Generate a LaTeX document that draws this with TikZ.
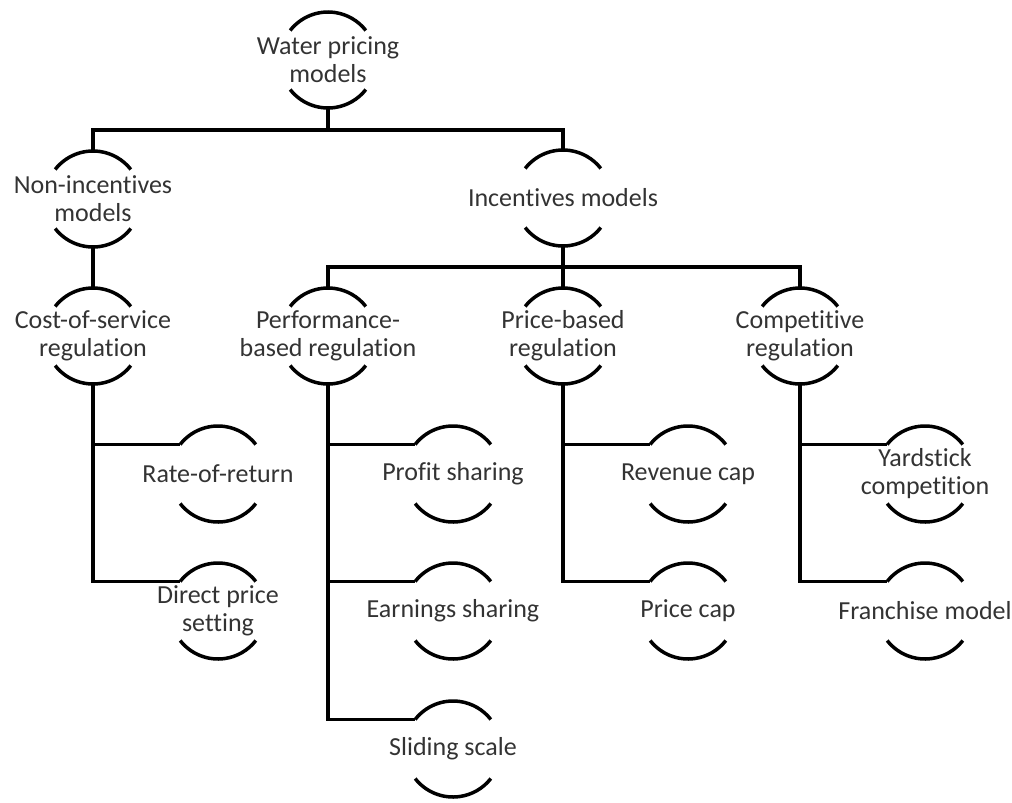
\documentclass[tikz,border=0pt]{standalone}
\usepackage{fontspec}
\setmainfont{Carlito}[Ligatures={NoCommon,NoRare,NoContextual},Contextuals=NoAlternate]
% a label between two arcs, with coordinates for its connectors
\newcommand\arcnode[4]{%
  \node[nodetext] (#1) at (#2,-#3) {#4};
  \draw[arcline] ([shift={(142:48pt)}]#1.center) arc[start angle=142,end angle=38,radius=48pt];
  \draw[arcline] ([shift={(218:48pt)}]#1.center) arc[start angle=218,end angle=322,radius=48pt];
  \coordinate (#1-top) at ([yshift=48pt]#1.center);
  \coordinate (#1-bot) at ([yshift=-48pt]#1.center);
  \coordinate (#1-in) at ([shift={(142:48pt)}]#1.center);
}
\begin{document}
\begin{tikzpicture}[x=1pt,y=1pt,
  nodetext/.style={align=center, text=black!80, font=\fontsize{26}{28}\selectfont, inner sep=0pt},
  arcline/.style={draw=black, line width=3.5pt},
  link/.style={draw=black, line width=3.5pt}]
\useasboundingbox (0,0) rectangle (1012,-803);

% levels 0-2
\arcnode{root}{328}{60}{Water pricing\\models}
\arcnode{noninc}{93}{199}{Non-incentives\\models}
\arcnode{inc}{563}{198}{Incentives models}
\arcnode{cos}{93}{336}{Cost-of-service\\regulation}
\arcnode{perf}{328}{336}{Performance-\\based regulation}
\arcnode{price}{563}{336}{Price-based\\regulation}
\arcnode{comp}{800}{336}{Competitive\\regulation}

% leaves
\arcnode{ror}{218}{474}{Rate-of-return}
\arcnode{dps}{218}{611}{Direct price\\setting}
\arcnode{profit}{453}{474}{Profit sharing}
\arcnode{earn}{453}{611}{Earnings sharing}
\arcnode{slide}{453}{749}{Sliding scale}
\arcnode{rev}{688}{474}{Revenue cap}
\arcnode{pcap}{688}{611}{Price cap}
\arcnode{yard}{925}{474}{Yardstick\\competition}
\arcnode{fran}{925}{611}{Franchise model}

% buses
\coordinate (bus1) at (0,-130);
\coordinate (bus2) at (0,-267);

\draw[link] (root-bot) -- (root-bot |- bus1);
\draw[link] (noninc-top) -- (noninc-top |- bus1) -- (inc-top |- bus1) -- (inc-top);
\draw[link] (noninc-bot) -- (cos-top);

\draw[link] (inc-bot) -- (inc-bot |- bus2);
\draw[link] (perf-top) -- (perf-top |- bus2) -- (comp-top |- bus2) -- (comp-top);
\draw[link] (price-top) -- (price-top |- bus2);

% branches to the leaves
\draw[link] (cos-bot) -- (cos-bot |- dps-in) -- (dps-in);
\draw[link] (cos-bot |- ror-in) -- (ror-in);

\draw[link] (perf-bot) -- (perf-bot |- slide-in) -- (slide-in);
\draw[link] (perf-bot |- profit-in) -- (profit-in);
\draw[link] (perf-bot |- earn-in) -- (earn-in);

\draw[link] (price-bot) -- (price-bot |- pcap-in) -- (pcap-in);
\draw[link] (price-bot |- rev-in) -- (rev-in);

\draw[link] (comp-bot) -- (comp-bot |- fran-in) -- (fran-in);
\draw[link] (comp-bot |- yard-in) -- (yard-in);
\end{tikzpicture}
\end{document}
